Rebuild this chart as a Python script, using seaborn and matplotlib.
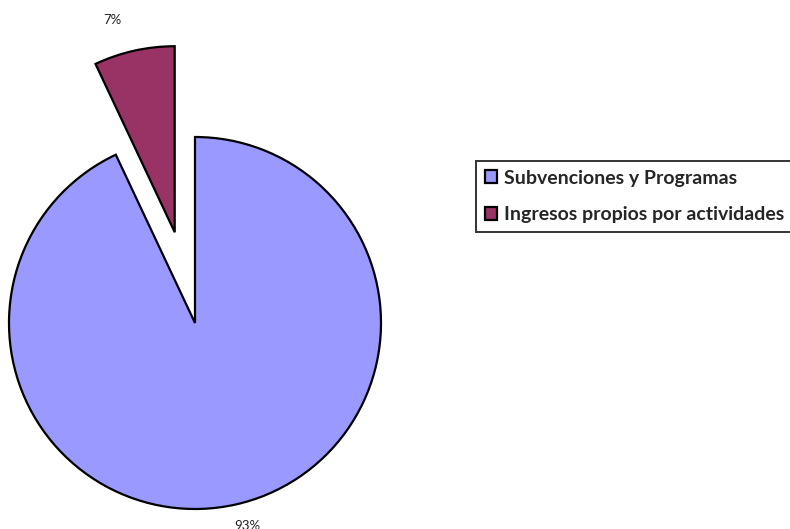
import matplotlib
matplotlib.use("Agg")
import matplotlib.pyplot as plt
import seaborn as sns

categories = ["Subvenciones y Programas", "Ingresos propios por actividades"]
values = [93, 7]
colors = ["#9999FF", "#993366"]
explode = [0.0, 0.5]

sns.set_theme(style="white")
plt.rcParams['font.family'] = ['Lato', 'DejaVu Sans']

fig = plt.figure(figsize=(7.9, 5.29), dpi=100)
ax = fig.add_axes([0, 0, 1, 1])

R = 186.0
wedges, texts, autotexts = ax.pie(
    values, colors=colors, explode=explode, startangle=90, counterclock=False,
    autopct=lambda p: f"{p:.0f}%", pctdistance=1.16, radius=1.0,
    wedgeprops=dict(edgecolor="black", linewidth=1.6),
    textprops=dict(fontsize=9.5, color="#222222"),
)

# percentage label placement (as in the reference)
autotexts[0].set_va("top")
autotexts[0].set_position(((247 - 195) / R, -(520 - 323) / R))
autotexts[1].set_position(((112 - 195) / R, (323 - 20) / R))

ax.set_xlim(-195 / R, (790 - 195) / R)
ax.set_ylim(-(529 - 323) / R, 323 / R)
ax.axis("off")

leg = fig.legend(
    wedges, categories, loc="upper left",
    bbox_to_anchor=(476 / 790, 1 - 161 / 529), borderaxespad=0,
    frameon=True, fancybox=False, edgecolor="black",
    prop=dict(family="Lato", weight="bold", size=14),
    handlelength=0.65, handleheight=0.65, handletextpad=0.35,
    labelspacing=1.0, borderpad=0.45,
)
leg.get_frame().set_linewidth(1.4)
for h in leg.legend_handles:
    h.set_edgecolor("black")
    h.set_linewidth(1.6)

fig.savefig("out.png", dpi=100)
